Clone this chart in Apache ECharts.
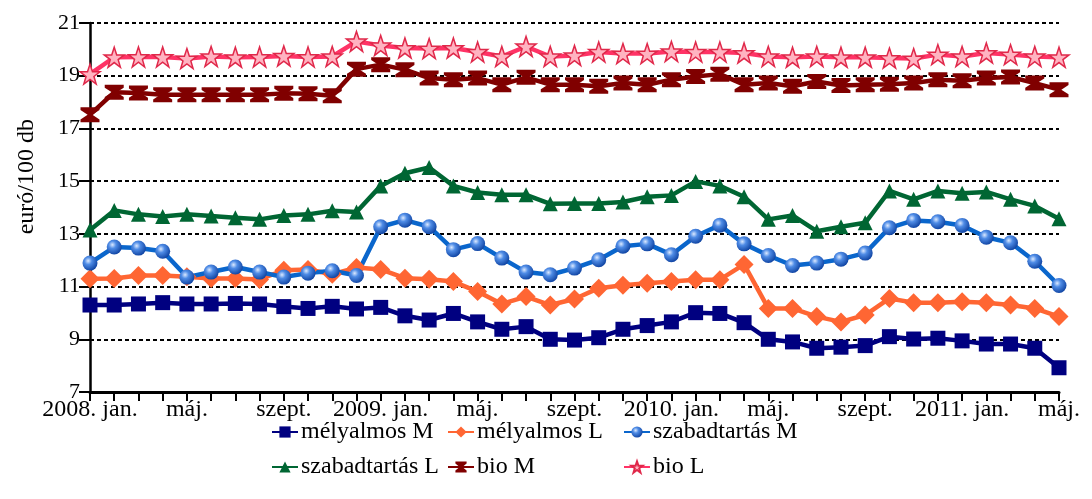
<!DOCTYPE html>
<html>
<head>
<meta charset="utf-8">
<script src="https://cdn.jsdelivr.net/npm/echarts@6/dist/echarts.min.js"></script>
<style>
html,body{margin:0;padding:0;background:#fff;}
#chart{width:1092px;height:499px;}
</style>
</head>
<body>
<div id="chart"></div>
<script>
// ---- data ----
const months = ['jan.','febr.','márc.','ápr.','máj.','jún.','júl.','aug.','szept.','okt.','nov.','dec.'];
const categories = [];
for (let y = 2008; y <= 2011; y++) {
  for (let m = 0; m < 12; m++) {
    if (y === 2011 && m > 4) break;
    categories.push(m === 0 ? (y + '. ' + months[m]) : months[m]);
  }
}
const yTicks = [7, 9, 11, 13, 15, 17, 19, 21];

const melyalmosM = [10.30,10.30,10.34,10.39,10.34,10.34,10.36,10.34,10.24,10.17,10.25,10.15,10.21,9.89,9.73,9.98,9.66,9.38,9.48,9.00,8.97,9.06,9.38,9.52,9.66,10.01,9.98,9.63,9.00,8.90,8.66,8.70,8.76,9.10,9.01,9.04,8.94,8.82,8.82,8.66,7.92];
const melyalmosL = [11.30,11.31,11.42,11.42,11.37,11.31,11.31,11.27,11.62,11.65,11.47,11.72,11.65,11.32,11.28,11.19,10.81,10.34,10.62,10.30,10.53,10.94,11.05,11.13,11.19,11.26,11.26,11.84,10.17,10.17,9.86,9.66,9.92,10.55,10.39,10.39,10.42,10.39,10.30,10.17,9.86];
const szabadM = [11.89,12.50,12.46,12.34,11.36,11.55,11.74,11.55,11.36,11.51,11.60,11.42,13.27,13.52,13.27,12.40,12.63,12.08,11.55,11.45,11.70,12.02,12.53,12.62,12.21,12.91,13.33,12.62,12.18,11.80,11.89,12.04,12.27,13.23,13.51,13.46,13.32,12.87,12.66,11.96,11.04];
const szabadL = [13.15,13.89,13.74,13.66,13.74,13.68,13.61,13.55,13.70,13.74,13.88,13.83,14.82,15.30,15.52,14.82,14.57,14.48,14.48,14.14,14.15,14.15,14.21,14.41,14.46,14.99,14.82,14.41,13.55,13.70,13.10,13.27,13.42,14.63,14.31,14.63,14.54,14.59,14.31,14.06,13.57];
const bioM = [17.52,18.37,18.34,18.28,18.28,18.28,18.28,18.28,18.33,18.32,18.24,19.25,19.42,19.23,18.91,18.85,18.91,18.66,18.94,18.66,18.66,18.60,18.72,18.66,18.85,18.97,19.06,18.66,18.72,18.60,18.78,18.63,18.66,18.68,18.72,18.85,18.81,18.91,18.95,18.72,18.47];
const bioL = [19.06,19.70,19.71,19.71,19.65,19.73,19.70,19.71,19.75,19.71,19.73,20.30,20.15,20.05,20.03,20.05,19.90,19.73,20.11,19.73,19.77,19.90,19.84,19.84,19.92,19.90,19.90,19.86,19.73,19.70,19.73,19.70,19.70,19.67,19.65,19.80,19.73,19.86,19.80,19.73,19.70];

const seriesNames = ['mélyalmos M','mélyalmos L','szabadtartás M','szabadtartás L','bio M','bio L'];
const yName = 'euró/100 db';

// ---- styles ----
const FONT = 'Liberation Serif';
const FS = 22;
const FS_TXT = 24;
const starPath = 'path://M50,0 L61.8,34.5 L97.6,34.5 L68.8,55.9 L79.4,90.5 L50,69.1 L20.6,90.5 L31.2,55.9 L2.4,34.5 L38.2,34.5 Z';
const hourglass = 'path://M0,0 L20,0 L20,3 L12.5,8 L20,13 L20,16 L0,16 L0,13 L7.5,8 L0,3 Z';

function mk(name, data, color, symbol, size, itemStyle, lineColor) {
  return {
    name: name, type: 'line', data: data,
    symbol: symbol, symbolSize: size,
    showAllSymbol: true,
    lineStyle: { color: lineColor || color, width: 4.5 },
    itemStyle: Object.assign({ color: color }, itemStyle || {}),
    emphasis: { disabled: true },
    animation: false
  };
}

const sphere = {
  type: 'radial', x: 0.38, y: 0.35, r: 0.7,
  colorStops: [
    { offset: 0, color: '#dbe9ff' },
    { offset: 0.35, color: '#4f8ce6' },
    { offset: 1, color: '#0b3f9e' }
  ]
};

const series = [
  mk(seriesNames[0], melyalmosM, '#000080', 'rect', 15),
  mk(seriesNames[1], melyalmosL, '#ff6633', 'diamond', 19),
  mk(seriesNames[2], szabadM, sphere, 'circle', 15, {}, '#0a66cc'),
  mk(seriesNames[3], szabadL, '#006633', 'triangle', 15),
  mk(seriesNames[4], bioM, '#800000', hourglass, [19, 15]),
  mk(seriesNames[5], bioL, '#ffb3c1', starPath, 20, { borderColor: '#e0284a', borderWidth: 1.5 }, '#ff3366')
];

const legendPos = [
  [271, 420], [447, 420], [623, 420],
  [271, 455], [447, 455], [623, 455]
];
const legends = seriesNames.map((n, i) => ({
  data: [n],
  left: legendPos[i][0], top: legendPos[i][1],
  itemWidth: 26, itemHeight: 14, itemGap: 4,
  padding: 0,
  textStyle: { fontFamily: FONT, fontSize: FS_TXT, color: '#000', padding: [0, 0, 0, -2] },
  selectedMode: false
}));

const chart = echarts.init(document.getElementById('chart'), null, { renderer: 'canvas' });
chart.setOption({
  backgroundColor: '#fff',
  animation: false,
  grid: { left: 90, right: 33, top: 23, bottom: 107, containLabel: false },
  legend: legends,
  graphic: [{
    type: 'text', left: 15, top: 119, rotation: Math.PI / 2,
    style: { text: yName, font: FS_TXT + 'px "' + FONT + '"', fill: '#000' },
    z: 10
  }],
  xAxis: {
    type: 'category', data: categories, boundaryGap: false,
    axisLine: { lineStyle: { color: '#000', width: 3 } },
    axisTick: { show: true, interval: 0, length: 9, lineStyle: { color: '#000', width: 2 } },
    axisLabel: { interval: 3, color: '#000', fontFamily: FONT, fontSize: FS_TXT, margin: 6, showMaxLabel: true },
    splitLine: { show: false }
  },
  yAxis: {
    type: 'value', min: 7, max: 21, interval: 2,
    axisLine: { show: true, lineStyle: { color: '#000', width: 2.5 } },
    axisTick: { show: true, length: 11, customValues: yTicks, lineStyle: { color: '#000', width: 2 } },
    axisLabel: { color: '#000', fontFamily: FONT, fontSize: FS, margin: 10, customValues: yTicks },
    splitLine: { show: true, lineStyle: { color: '#000', width: 2, type: [4, 3] } }
  },
  series: series
});
</script>
</body>
</html>
